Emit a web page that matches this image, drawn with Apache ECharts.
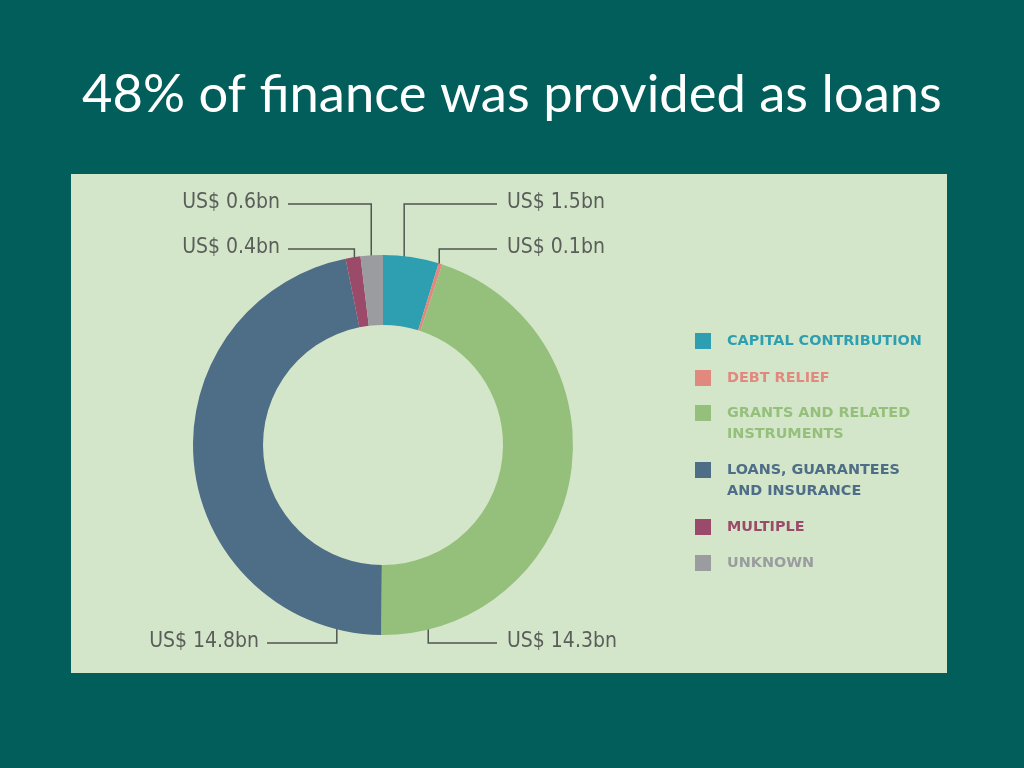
<!DOCTYPE html>
<html>
<head>
<meta charset="utf-8">
<script src="https://cdn.jsdelivr.net/npm/echarts@6/dist/echarts.min.js"></script>
<style>html,body{margin:0;padding:0;background:#015e5a;}#c{width:1024px;height:768px;}</style>
</head>
<body>
<div id="c"></div>
<script>
const titleText = '48% of finance was provided as loans';
const categories = ['CAPITAL CONTRIBUTION', 'DEBT RELIEF', 'GRANTS AND RELATED\nINSTRUMENTS', 'LOANS, GUARANTEES\nAND INSURANCE', 'MULTIPLE', 'UNKNOWN'];
const values = [1.5, 0.1, 14.3, 14.8, 0.4, 0.6];
const colors = ['#2e9fb0', '#e2897f', '#94c07b', '#4e6d87', '#9b4a69', '#9a9c9f'];

// layout of leader lines (angle clockwise from top, label row y, horizontal end x)
const leader = [
  {ang: 6.5, y: 204, end: 497, side: 'right'},
  {ang: 17.5, y: 249, end: 497, side: 'right'},
  {ang: 166, y: 643, end: 497, side: 'right'},
  {ang: 194.3, y: 643, end: 267, side: 'left'},
  {ang: -8.8, y: 249, end: 288, side: 'left'},
  {ang: -3.6, y: 204, end: 288, side: 'left'}
];
const CX = 383, CY = 445, R_IN = 120, R_OUT = 190;
const legendTops = [331, 368, 381.5, 438.5, 517, 553];

const chart = echarts.init(document.getElementById('c'));

const legends = categories.map((name, i) => {
  const two = name.indexOf('\n') >= 0;
  return {
    orient: 'vertical',
    left: 695,
    top: legendTops[i],
    padding: 0,
    icon: 'rect',
    itemWidth: 16,
    itemHeight: 16,
    selectedMode: false,
    data: [name],
    formatter: n => (two ? '\n' + n : n),
    textStyle: {
      color: colors[i],
      fontFamily: 'DejaVu Sans',
      fontWeight: 'bold',
      fontSize: 14.4,
      lineHeight: two ? 21 : 20,
      padding: [0, 0, 0, 11]
    }
  };
});

chart.setOption({
  backgroundColor: '#015e5a',
  animation: false,
  title: {
    text: titleText,
    left: 82,
    top: 69,
    padding: 0,
    textStyle: {color: '#ffffff', fontFamily: 'Lato', fontWeight: 'normal', fontSize: 52.5}
  },
  graphic: [{
    type: 'rect',
    shape: {x: 71, y: 174, width: 876, height: 499},
    style: {fill: '#d4e6c9'},
    z: -10
  }],
  legend: legends,
  series: [{
    type: 'pie',
    center: [CX, CY],
    radius: [R_IN, R_OUT],
    startAngle: 90,
    clockwise: true,
    avoidLabelOverlap: false,
    silent: true,
    itemStyle: {borderWidth: 0},
    data: categories.map((n, i) => ({name: n, value: values[i], itemStyle: {color: colors[i]}})),
    label: {
      show: true,
      formatter: p => 'US$ ' + p.value + 'bn',
      color: '#5a5e5a',
      fontFamily: 'DejaVu Sans Condensed',
      fontSize: 21
    },
    labelLine: {show: true, lineStyle: {color: '#505650', width: 1.5}},
    labelLayout: function (params) {
      const L = leader[params.dataIndex];
      const a = L.ang * Math.PI / 180;
      const r = R_OUT - 3;
      const ax = CX + r * Math.sin(a);
      const ay = CY - r * Math.cos(a);
      const right = L.side === 'right';
      return {
        x: right ? L.end + 10 : L.end - 8,
        y: L.y - 1,
        align: right ? 'left' : 'right',
        verticalAlign: 'middle',
        labelLinePoints: [[ax, ay], [ax, L.y], [L.end, L.y]]
      };
    }
  }]
});
</script>
</body>
</html>
